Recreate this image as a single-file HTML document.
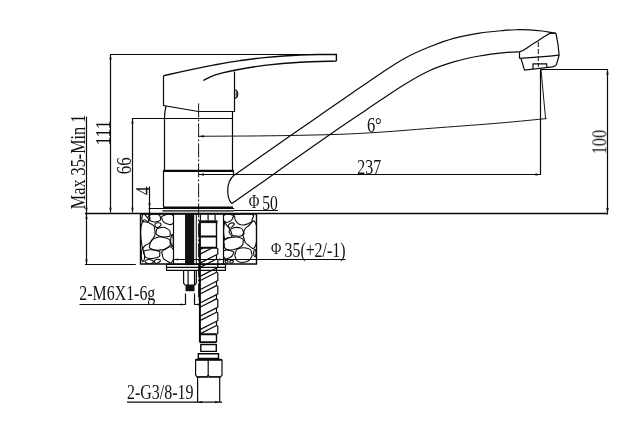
<!DOCTYPE html>
<html><head><meta charset="utf-8"><title>Faucet dimension drawing</title>
<style>
html,body{margin:0;padding:0;background:#fff;}
svg{display:block;}
text{font-family:"Liberation Serif",serif;fill:#111;}
.l{stroke:#0a0a0a;stroke-width:1.2;fill:none;}
.t{stroke:#0a0a0a;stroke-width:0.95;fill:none;}
.k{stroke:#0a0a0a;stroke-width:1.4;fill:none;}
.kk{stroke:#0a0a0a;stroke-width:2;fill:none;}
.f{fill:#111;stroke:none;}
</style></head>
<body>
<svg width="644" height="430" viewBox="0 0 644 430">
<rect width="644" height="430" fill="#fff"/>

<!-- dimension lines -->
<g class="l">
<path style="stroke-width:1.3" d="M85 213.5H608"/><path style="stroke-width:1.6" d="M140 213.9H257"/>
<path d="M110.5 54.5V212.5M110 54.5H336.4"/>
<path d="M132.5 118.5V212.5M132 118.5H232.5"/>
<path d="M149.5 186.5V221M148.6 208.5H234.2"/>
<path d="M86.5 116.8V264.5M85 264.5H135.8"/>
<path d="M199 174.5H540.5M540.5 69.5V175"/>
<path d="M540.4 69.5H608M607.5 69.5V214.5"/>
<path class="t" d="M199.0 136.3C209.2 136.2 243.2 136.1 260.0 135.9C276.8 135.7 286.7 135.6 300.0 135.3C313.3 135.0 326.7 134.8 340.0 134.3C353.3 133.8 363.3 133.3 380.0 132.2C396.7 131.1 420.0 129.1 440.0 127.6C460.0 126.1 482.2 124.5 500.0 123.0C517.8 121.5 538.8 119.3 546.6 118.6"/>
<path class="t" d="M541 69.5L545.6 119"/>
<path d="M234 210.5H278"/>
<path d="M173.4 259.5H345.6"/>
<path d="M79.5 304.5H185.5M194.5 304.5H199.5M185.5 293.5V304.8M194.5 293.5V304.8"/>
<path d="M127 402.2H222M197.6 377V402.6M219.7 377V402.6"/>
</g>
<g class="f">
<path d="M110.5 54.5l-1.15 5h2.3zM110.5 212.8l-1.15-5h2.3z"/>
<path d="M132.5 118.5l-1.15 5h2.3zM132.5 212.8l-1.15-5h2.3z"/>
<path d="M149.5 208.3l-1.15-5h2.3zM149.5 214.2l-1.15 5h2.3z"/>
<path d="M86.5 212.8l-1.15-5h2.3zM86.5 264.5l-1.15-5h2.3zM86.5 214l-1.15 5h2.3z"/>
<path d="M607.5 69.5l-1.2 5h2.4zM607.5 213l-1.3-5h2.6z"/>
<path d="M199 174.5l5-1.15v2.3zM540.4 174.5l-5-1.15v2.3z"/>
<path d="M199 136.3l5-1.15v2.3z"/>
<path d="M173.6 259.5l4.5-1.1v2.2zM223.4 259.5l-4.5-1.1v2.2z"/>
<path d="M185.3 304.5l-4.5-1.1v2.2zM194.7 304.5l4.5-1.1v2.2z"/>
<path d="M197.8 402.2l4.5-1.1v2.2zM219.5 402.2l-4.5-1.1v2.2z"/>
</g>

<!-- faucet body -->
<g class="l">
<path class="t" stroke-dasharray="14 2 2 2" d="M198.6 103.4V300"/>
<path class="k" d="M163.5 75.7C167.9 74.7 181.5 71.7 190.0 69.9C198.5 68.1 206.3 66.5 214.6 64.9C222.9 63.4 231.7 61.8 240.0 60.6C248.3 59.4 254.4 58.5 264.4 57.6C274.4 56.7 289.9 55.5 300.0 55.0C310.1 54.5 318.9 54.6 325.0 54.5C331.1 54.4 334.5 54.5 336.4 54.5V61.1"/>
<path class="k" d="M203.4 80.5C205.3 79.6 209.4 76.9 214.6 75.2C219.8 73.5 226.2 71.9 234.5 70.3C242.8 68.7 253.5 66.8 264.4 65.4C275.3 64.1 288.0 62.9 300.0 62.2C312.0 61.5 330.3 61.3 336.4 61.1"/>
<path d="M163.5 75.7V105.5L198.3 111.5H234.5V71.4"/>
<path d="M234.5 89.5C238.8 90.5 238.8 97.5 234.5 98.5"/>
<path class="t" d="M236.2 91.5V96.5"/>
<path d="M166 106C165 110 164.5 114 164.5 118.5V170.4M232.5 111.5V170.4"/>
<path style="stroke-width:2.2" d="M163.1 170.8H233.6"/>
<path d="M163.5 170.4V207M233.5 170.4V175.2"/>
<path class="k" d="M163.2 207.2H233"/>
<path d="M162.4 210.8H234.2"/>
<path d="M234.2 175C230 178.5 227.6 185 227.7 191C227.9 196.5 229.2 200.3 230.8 202.4C231.4 203.2 232 203.6 232.5 203.4"/>
<path style="stroke-width:1.2" d="M234.2 175.2C238.8 171.9 252.3 162.4 262.0 155.6C271.6 148.8 281.1 142.3 292.1 134.6C303.1 126.9 317.7 116.8 328.2 109.6C338.7 102.3 346.4 97.0 355.0 91.1C363.6 85.1 371.7 79.4 380.0 73.9C388.3 68.4 396.6 62.7 404.9 58.2C413.2 53.7 421.5 50.1 429.8 46.8C438.1 43.5 446.3 40.5 454.6 38.2C462.9 35.9 471.2 34.4 479.5 33.1C487.8 31.8 498.1 31.0 504.4 30.4C510.7 29.8 513.1 29.8 517.3 29.7C521.4 29.6 525.1 29.7 529.3 29.9C533.4 30.1 538.7 30.6 542.2 31.0C545.7 31.4 548.2 31.9 550.5 32.3C552.8 32.7 555.1 33.2 556.0 33.4"/>
<path d="M232.3 203.3C237.2 199.8 250.7 190.4 262.0 182.4C273.3 174.4 287.0 164.6 300.0 155.5C313.0 146.4 329.1 135.1 340.0 127.6C350.9 120.1 358.8 114.9 365.5 110.4C372.2 105.9 373.4 105.0 380.0 100.6C386.6 96.2 396.6 89.2 404.9 84.2C413.2 79.2 421.5 74.3 429.8 70.5C438.1 66.7 446.3 64.0 454.6 61.6C462.9 59.2 471.2 57.5 479.5 56.0C487.8 54.5 497.7 53.3 504.4 52.6C511.1 51.9 517.0 51.9 519.5 51.8"/>
<path d="M556 33.4C557.6 41 558.7 48 559.1 55.2L556.3 65.2"/>
<path d="M519.5 51.8V58.4M519.5 51.8C522 51.2 524.5 49.8 527 48C530.5 45.4 534 43 537.3 41.2C541 39 545 36 548 34.2C550 33.2 552 32.8 556 33.4"/>
<path d="M519.5 58.4C533 57.6 546 56.6 559.1 55.2"/>
<path d="M521.1 58.8L524.5 70.2L552.7 66.9L556.3 65.2"/>
<path d="M533 69V63.9H546.7V67.5"/>
<path class="t" stroke-dasharray="5 2" d="M538.3 42V67"/>
</g>

<!-- counter -->
<g class="l">
<path class="k" d="M140.5 213V264H256.5V213"/>
<path d="M173.5 213V264M223.5 213V264"/>
</g>
<clipPath id="cl"><rect x="140.5" y="213" width="33" height="51"/></clipPath>
<clipPath id="cr"><rect x="223.5" y="213" width="33" height="51"/></clipPath>
<g class="l" style="stroke-width:1.1" stroke-linejoin="round" clip-path="url(#cl)">
<path d="M142.7 214.7C143.5 212.8 142.7 212.5 144.7 214.4C146.6 216.4 148.9 218.5 148.8 220.8C148.8 223.1 146.5 221.8 144.4 221.7C142.3 221.6 142.7 222.8 142.1 220.6C141.6 218.4 141.9 216.6 142.7 214.7Z"/>
<path d="M150.0 215.0C152.4 213.9 153.6 213.4 156.9 214.3C160.3 215.2 160.0 215.6 160.4 217.8C160.9 220.0 161.2 220.2 158.3 221.3C155.5 222.4 154.2 222.4 151.4 221.3C148.5 220.2 149.7 219.8 149.3 217.8C148.8 215.8 147.5 216.1 150.0 215.0Z"/>
<path d="M163.2 215.7C166.4 214.1 169.5 212.6 172.6 215.0C175.7 217.4 175.1 220.7 173.0 223.4C170.9 226.0 169.3 224.5 166.0 223.4C162.7 222.3 163.4 222.3 162.5 219.9C161.7 217.4 160.1 217.2 163.2 215.7Z"/>
<path d="M155.6 223.4C156.9 222.3 160.7 222.7 161.1 224.1C161.6 225.4 158.7 227.8 156.9 227.6C155.2 227.3 154.2 224.5 155.6 223.4Z"/>
<path d="M141.9 223.4C144.4 216.5 145.9 221.2 150.0 223.4C154.1 225.6 154.2 225.0 154.9 230.3C155.5 235.7 154.9 235.5 152.1 240.1C149.2 244.8 149.0 243.5 145.8 245.0C142.5 246.6 143.1 251.9 141.9 245.0C140.6 238.2 139.3 230.2 141.9 223.4Z"/>
<path d="M160.4 227.6C164.0 226.9 164.3 227.0 167.4 228.9C170.5 230.9 170.2 231.4 170.2 233.8C170.2 236.3 171.0 236.0 167.4 236.6C163.9 237.3 162.6 237.7 159.0 235.9C155.5 234.2 155.8 233.7 156.3 231.0C156.7 228.4 156.9 228.2 160.4 227.6Z"/>
<path d="M155.6 238.0C160.6 236.0 161.4 236.5 166.0 238.0C170.7 239.6 169.8 239.8 170.2 242.9C170.7 246.0 170.5 245.6 167.4 247.8C164.3 250.0 165.3 249.5 160.4 249.9C155.6 250.3 155.4 251.0 152.1 249.2C148.7 247.4 148.9 247.9 150.0 244.3C151.1 240.8 150.5 240.0 155.6 238.0Z"/>
<path d="M171.2 236.6C171.8 234.4 172.3 233.1 172.9 235.9C173.4 238.8 173.5 243.5 172.9 245.7C172.3 247.9 171.4 245.8 170.9 242.9C170.4 240.0 170.6 238.8 171.2 236.6Z"/>
<path d="M145.8 250.6C149.8 249.3 152.5 249.5 156.9 250.6C161.4 251.7 159.7 251.9 159.7 254.1C159.7 256.3 160.5 256.3 156.9 257.6C153.4 258.9 152.6 259.2 148.6 258.3C144.6 257.4 145.3 257.2 144.4 254.8C143.5 252.4 141.8 251.9 145.8 250.6Z"/>
<path d="M163.9 249.9C167.1 247.7 169.9 245.0 172.6 248.5C175.3 252.0 174.7 257.3 172.6 261.1C170.5 264.8 169.2 262.1 166.0 260.4C162.8 258.6 163.2 258.8 162.5 255.5C161.9 252.2 160.7 252.1 163.9 249.9Z"/>
<path d="M155.6 259.7C157.3 259.0 160.0 259.3 160.4 260.4C160.9 261.5 158.7 262.5 156.9 263.2C155.2 263.8 155.3 263.6 154.9 262.5C154.4 261.4 153.8 260.3 155.6 259.7Z"/>
<path d="M141.9 249.9C142.4 247.2 142.9 248.4 143.7 251.3C144.5 254.2 145.0 256.2 144.4 259.0C143.8 261.7 142.7 262.8 141.9 260.0C141.1 257.1 141.3 252.6 141.9 249.9Z"/>
<path d="M145.8 260.4C147.1 259.3 149.2 259.2 151.4 260.0C153.6 260.7 154.1 261.7 152.8 262.7C151.4 263.8 149.4 264.1 147.2 263.3C145.0 262.6 144.4 261.4 145.8 260.4Z"/>
</g>
<g class="l" style="stroke-width:1.1" stroke-linejoin="round" clip-path="url(#cr)">
<path d="M224.3 215.0C226.7 213.0 229.3 214.1 232.0 215.0C234.6 215.9 233.3 215.8 232.7 217.8C232.0 219.8 232.5 220.2 229.9 221.3C227.2 222.4 226.1 223.3 224.3 221.3C222.5 219.3 221.9 217.0 224.3 215.0Z"/>
<path d="M236.2 214.3C241.2 213.4 245.7 212.7 250.8 214.3C255.9 215.8 252.9 216.3 252.2 219.2C251.6 222.0 252.3 221.6 248.7 223.4C245.2 225.1 245.0 225.4 241.0 224.8C237.1 224.1 238.1 223.7 236.2 221.3C234.2 218.8 234.8 219.3 234.8 217.1C234.8 214.9 231.1 215.2 236.2 214.3Z"/>
<path d="M229.2 224.1C230.7 222.7 233.2 222.5 234.1 223.4C234.9 224.2 233.5 225.5 232.0 226.9C230.4 228.2 230.1 228.4 229.2 227.6C228.3 226.7 227.6 225.4 229.2 224.1Z"/>
<path d="M231.3 228.9C234.1 227.0 235.2 226.9 238.9 227.6C242.7 228.2 242.0 228.6 243.1 231.0C244.2 233.5 245.1 233.7 242.4 235.2C239.8 236.8 238.7 236.4 234.8 235.9C230.8 235.5 231.0 236.0 229.9 233.8C228.8 231.6 228.4 230.9 231.3 228.9Z"/>
<path d="M248.0 226.2C251.8 223.5 253.3 217.4 255.7 223.4C258.1 229.3 258.1 238.2 255.7 245.0C253.3 251.9 251.8 247.2 248.0 245.0C244.3 242.8 245.2 242.2 243.8 238.0C242.5 233.8 242.5 235.5 243.8 231.7C245.2 228.0 244.3 228.8 248.0 226.2Z"/>
<path d="M225.0 239.4C227.4 237.2 226.9 237.8 232.0 237.3C237.1 236.9 237.5 236.5 241.0 238.0C244.6 239.6 243.1 239.6 243.1 242.2C243.1 244.9 243.7 244.2 241.0 246.4C238.4 248.6 239.4 248.3 234.8 249.2C230.1 250.1 229.7 250.7 226.4 249.2C223.1 247.7 224.7 247.4 224.3 244.3C223.8 241.2 222.6 241.6 225.0 239.4Z"/>
<path d="M238.9 248.5C242.9 247.2 244.0 247.2 248.0 248.5C252.0 249.8 250.6 249.6 251.5 252.7C252.4 255.8 252.6 255.4 250.8 258.3C249.1 261.2 249.7 260.7 245.9 261.8C242.2 262.9 242.3 263.1 238.9 261.8C235.6 260.4 236.6 260.5 235.5 257.6C234.4 254.7 234.4 255.6 235.5 252.7C236.6 249.8 235.0 249.8 238.9 248.5Z"/>
<path d="M224.3 250.6C226.7 248.6 229.1 250.4 232.0 251.3C234.8 252.2 234.0 251.4 233.4 253.4C232.7 255.4 232.7 256.3 229.9 257.6C227.0 258.9 226.1 259.8 224.3 257.6C222.5 255.4 221.9 252.6 224.3 250.6Z"/>
<path d="M254.0 250.6C254.6 249.0 255.2 249.0 255.7 250.6C256.2 252.1 256.2 253.9 255.7 255.5C255.2 257.0 254.6 257.0 254.0 255.5C253.5 253.9 253.5 252.1 254.0 250.6Z"/>
<path d="M225.0 261.1C225.2 260.3 227.1 260.1 227.8 260.8C228.4 261.5 228.0 263.1 227.1 263.2C226.2 263.3 224.8 261.8 225.0 261.1Z"/>
<path d="M229.9 261.1C230.5 260.3 232.9 260.1 233.4 260.8C233.8 261.5 232.4 263.1 231.3 263.2C230.2 263.3 229.2 261.8 229.9 261.1Z"/>
<path d="M224.3 224.1C224.9 220.1 223.9 221.4 226.4 224.8C228.8 228.1 231.5 230.3 232.0 234.5C232.4 238.7 230.2 237.1 227.8 238.0C225.3 238.9 225.4 241.8 224.3 237.3C223.2 232.9 223.6 228.0 224.3 224.1Z"/>
</g>

<!-- under-counter hardware -->
<g class="l">
<rect class="f" x="185" y="213.6" width="9.2" height="51.5"/>
<path class="t" d="M196.3 214V264"/>
<path d="M166.5 264.3H225.5V270.4H166.5zM166.5 267.3H225.5"/>
<path d="M183.6 270.6V283L185 285H195L196.3 283V270.6M188.1 270.6V285M194.5 270.6V285"/>
<rect class="f" x="185.5" y="285" width="9" height="6.2"/>
<path d="M200.4 214.5V220.5M208.1 214.5V220.5M215.1 214.5V220.5"/>
<rect class="f" x="199" y="220.3" width="18.6" height="2.8"/>
<path class="kk" d="M199.9 223V342.2"/>
<path class="k" d="M216.5 223V248.2M216.5 334.2V342.2"/>
<path class="kk" d="M199.4 236.6H216.5M199.4 247.8H216.5"/>
<path d="M200.0 329.6L216.5 321.2M200.0 333.9L216.5 325.5M200.0 316.3L216.5 307.9M200.0 320.6L216.5 312.2M200.0 303.0L216.5 294.6M200.0 307.3L216.5 298.9M200.0 289.7L216.5 281.3M200.0 294.0L216.5 285.6M200.0 276.4L216.5 268.0M200.0 280.7L216.5 272.3M200.0 263.1L216.5 254.7M200.0 267.4L216.5 259.0M200.0 249.8L203.1 248.2M200.0 254.1L211.6 248.2"/>
<path d="M216.5 321.2V325.5M216.5 325.5l1.3 .7V333.5l-1.3 .7M216.5 307.9V312.2M216.5 312.2l1.3 .7V320.5l-1.3 .7M216.5 294.6V298.9M216.5 298.9l1.3 .7V307.2l-1.3 .7M216.5 281.3V285.6M216.5 285.6l1.3 .7V293.9l-1.3 .7M216.5 268.0V272.3M216.5 272.3l1.3 .7V280.6l-1.3 .7M216.5 254.7V259.0M216.5 259.0l1.3 .7V267.3l-1.3 .7M216.5 248.2l1.3 .7V254.0l-1.3 .7"/>
<path class="kk" d="M199.7 334.2H216.5M199.7 342.2H216.5"/>
<path class="k" d="M200.8 344.6H216.3V351.4H200.8z"/>
<path class="k" d="M198.3 353.8H218.5V358.5H198.3z"/>
<path class="kk" d="M195.3 359.8H221.9"/>
<path style="stroke-width:1.2" d="M195.6 359.6V375L197 376.8H206.8L208.2 375L209.6 376.8H220.6L222 375V359.6M208.2 360V375"/>
<path d="M196.8 377H220.4"/>
</g>

<!-- text -->
<g id="txt" font-size="21" opacity="0.999">
<text id="t6" x="366.9" y="132" textLength="14.8" lengthAdjust="spacingAndGlyphs">6°</text>
<text id="t237" x="357.3" y="173.9" textLength="23.8" lengthAdjust="spacingAndGlyphs">237</text>
<text id="tp50" font-size="18.5" x="248.8" y="208.3" textLength="10.6" lengthAdjust="spacingAndGlyphs">Φ</text>
<text id="t50" font-size="20" x="262.2" y="209.8" textLength="15.6" lengthAdjust="spacingAndGlyphs">50</text>
<text id="tp35" font-size="17.5" x="271.1" y="254.2" textLength="10.3" lengthAdjust="spacingAndGlyphs">Φ</text>
<text id="t35" font-size="20" x="284.5" y="256.7" textLength="61" lengthAdjust="spacingAndGlyphs">35(+2/-1)</text>
<text id="tm6" x="79.3" y="299.8" textLength="76" lengthAdjust="spacingAndGlyphs">2-M6X1-6g</text>
<text id="tg3" font-size="20" x="126.9" y="398.9" textLength="66.6" lengthAdjust="spacingAndGlyphs">2-G3/8-19</text>
<text id="tmax" transform="translate(85.2 209.2) rotate(-90)" textLength="94.6" lengthAdjust="spacingAndGlyphs">Max 35-Min 1</text>
<text id="t111" transform="translate(109.5 145.6) rotate(-90)" textLength="25.2" lengthAdjust="spacingAndGlyphs">111</text>
<text id="t66" transform="translate(131.3 174.2) rotate(-90)" textLength="17" lengthAdjust="spacingAndGlyphs">66</text>
<text id="t4" transform="translate(149.5 195) rotate(-90)" textLength="8.6" lengthAdjust="spacingAndGlyphs">4</text>
<text id="t100" transform="translate(606.3 154.2) rotate(-90)" textLength="24.2" lengthAdjust="spacingAndGlyphs">100</text>
</g>
</svg>
</body></html>
